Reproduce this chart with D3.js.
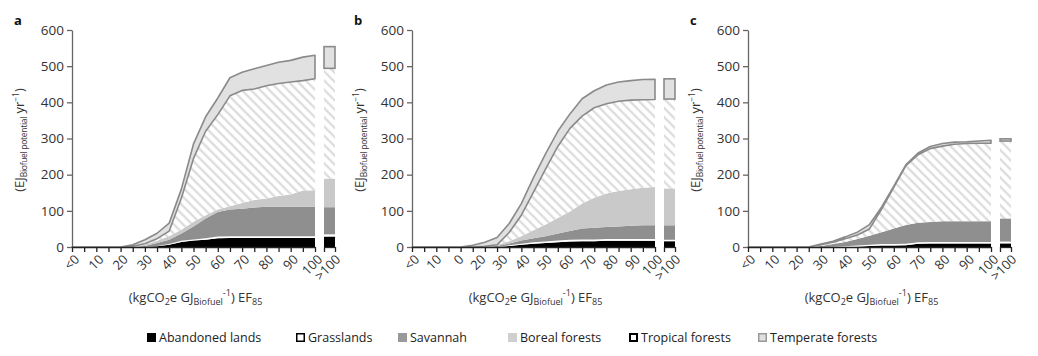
<!DOCTYPE html>
<html><head><meta charset="utf-8">
<script src="https://cdn.jsdelivr.net/npm/d3@7"></script>
<style>
body{margin:0;background:#fff;}
svg{display:block;font-family:"Open Sans",sans-serif;}
</style>
</head><body>
<svg id="chart" width="1038" height="356"></svg>
<script>
// ---------- DATA ----------
const efValues = [0,5,10,15,20,25,30,35,40,45,50,55,60,65,70,75,80,85,90,95,100];
const layerKeys = ["abandoned","grass","savannah","boreal","tropical","temperate"];
const legendLabels = ["Abandoned lands","Grasslands","Savannah","Boreal forests","Tropical forests","Temperate forests"];
const yTicks = [0,100,200,300,400,500,600];
const xLabelsAC = ["<0","10","20","30","40","50","60","70","80","90","100"];
const xLabelsB = ["<0","10","0","20","30","40","50","60","70","80","90","100"];
const overLabel = ">100";
const panelLetters = ["a","b","c"];

// panel a (EJ per layer)
const aAbandoned = [0,0,0,0,0,0,0,2,6,14,18,20,24,25,25,25,25,25,25,25,25];
const aGrass     = [0,0,0,0,0,0,0,1,2,3,3,4,5,5,5,5,5,5,5,5,5];
const aSavannah  = [0,0,0,0,0,0,3,8,12,20,36,55,68,74,76,79,81,81,81,81,81];
const aBoreal    = [0,0,0,0,0,1,3,6,10,11,13,9,7,9,16,21,23,30,34,45,46];
const aTropical  = [0,0,0,0,0,1,3,6,14,87,175,232,262,305,311,307,312,311,311,304,308];
const aTemperate = [0,0,0,0,0,4,11,15,22,25,40,40,46,50,50,56,56,59,60,65,65];
const aOver      = [29,6,75,79,305,60];

// panel b
const bAbandoned = [0,0,0,0,0,0,0,0,3,6,9,11,13,15,16,16,17,17,17,17,17];
const bGrass     = [0,0,0,0,0,0,0,0,2,3,4,4,5,5,5,5,5,5,5,5,5];
const bSavannah  = [0,0,0,0,0,0,1,3,5,9,11,15,19,24,30,32,33,35,37,38,38];
const bBoreal    = [0,0,0,0,0,0,1,3,6,12,22,32,43,54,69,83,93,98,101,104,106];
const bTropical  = [0,0,0,0,0,0,0,0,24,58,106,154,198,230,242,249,248,248,246,243,242];
const bTemperate = [0,0,0,0,0,5,11,20,25,32,40,42,42,40,48,47,52,53,54,56,56];
const bOver      = [16,4,40,102,247,56];

// panel c
const cAbandoned = [0,0,0,0,0,0,0,0,0,1,3,4,4,5,9,10,10,10,10,10,10];
const cGrass     = [0,0,0,0,0,0,0,1,2,3,3,4,4,4,4,4,4,4,4,4,4];
const cSavannah  = [0,0,0,0,0,0,3,7,12,18,25,33,43,52,54,55,57,57,57,57,57];
const cBoreal    = [0,0,0,0,0,0,0,0,0,0,0,0,0,0,0,0,0,0,0,0,0];
const cTropical  = [0,0,0,0,0,0,3,5,9,11,19,64,114,164,188,203,208,213,215,216,216];
const cTemperate = [0,0,0,0,0,0,2,3,5,8,12,6,3,3,5,6,7,6,5,6,8];
const cOver      = [10,5,64,0,214,6];

// ---------- STYLE / LAYOUT ----------
const fills = {abandoned:"#000000", grass:"#ffffff", savannah:"#8f8f8f", boreal:"#c9c9c9", tropical:"url(#hatch)", temperate:"#e1e1e1"};
const axisColor = "#666";
const textColor = "#333";
const panels = [
  {x0:72,  series:[aAbandoned,aGrass,aSavannah,aBoreal,aTropical,aTemperate], over:aOver, labels:xLabelsAC},
  {x0:412, series:[bAbandoned,bGrass,bSavannah,bBoreal,bTropical,bTemperate], over:bOver, labels:xLabelsB},
  {x0:748, series:[cAbandoned,cGrass,cSavannah,cBoreal,cTropical,cTemperate], over:cOver, labels:xLabelsAC}
];
const plotW = 243, yTop = 30, yBot = 247;

const svg = d3.select("#chart");
const defs = svg.append("defs");
const pat = defs.append("pattern").attr("id","hatch").attr("patternUnits","userSpaceOnUse")
  .attr("width",6.5).attr("height",6.5).attr("patternTransform","rotate(45)");
pat.append("rect").attr("width",6.5).attr("height",6.5).attr("fill","#fff");
pat.append("line").attr("x1",0).attr("y1",3.25).attr("x2",6.5).attr("y2",3.25)
  .attr("stroke","#d8d8d8").attr("stroke-width",2);

const y = d3.scaleLinear().domain([0,600]).range([yBot,yTop]);

panels.forEach((p,pi)=>{
  const g = svg.append("g");
  const x = d3.scaleLinear().domain([0,100]).range([p.x0, p.x0+plotW]);
  const rows = efValues.map((v,i)=>{
    const r = {ef:v};
    layerKeys.forEach((k,ki)=>r[k]=p.series[ki][i]);
    return r;
  });
  const stack = d3.stack().keys(layerKeys)(rows);
  const area = d3.area().x(d=>x(d.data.ef)).y0(d=>y(d[0])).y1(d=>y(d[1])).curve(d3.curveLinear);
  g.selectAll("path.layer").data(stack).join("path").attr("class","layer")
    .attr("d",area)
    .attr("fill",d=>fills[d.key])
    .attr("stroke",d=>d.key==="temperate"?"#8a8a8a":"none")
    .attr("stroke-width",1.6).attr("stroke-linejoin","round");

  // >100 bar
  const bx0 = p.x0+plotW+9, bx1 = bx0+11;
  const xb = d3.scaleBand().domain([overLabel]).range([bx0,bx1]).padding(0);
  const orow = {cat:overLabel};
  layerKeys.forEach((k,ki)=>orow[k]=p.over[ki]);
  const ostack = d3.stack().keys(layerKeys)([orow]);
  g.selectAll("rect.over").data(ostack).join("rect").attr("class","over")
    .attr("x",xb(overLabel)).attr("width",xb.bandwidth())
    .attr("y",d=>y(d[0][1])).attr("height",d=>y(d[0][0])-y(d[0][1]))
    .attr("fill",d=>fills[d.key])
    .attr("stroke",d=>d.key==="temperate"?"#8a8a8a":"none")
    .attr("stroke-width",1.6);

  // y axis
  const ya = g.append("g").attr("transform",`translate(${p.x0},0)`)
    .call(d3.axisLeft(y).tickValues(yTicks).tickSize(5).tickSizeOuter(0).tickPadding(3));
  ya.selectAll("path,line").attr("stroke",axisColor).attr("stroke-width",1.3);
  ya.selectAll("text").attr("fill",textColor).style("font-size","13.5px").style("font-family","Open Sans");

  // x axis
  const xa = g.append("g").attr("transform",`translate(0,${yBot})`)
    .call(d3.axisBottom(x).tickValues(efValues).tickSize(5).tickSizeOuter(0).tickFormat(""));
  xa.selectAll("path,line").attr("stroke","#222").attr("stroke-width",1.3);
  const n = p.labels.length;
  g.selectAll("text.xl").data(p.labels).join("text").attr("class","xl")
    .attr("transform",(d,i)=>`translate(${x(i*100/(n-1))+5},${yBot+10}) rotate(-45)`)
    .attr("text-anchor","end").attr("dy","0.35em")
    .attr("fill",textColor).style("font-size","13px").text(d=>d);

  const xbScale = d3.scaleLinear().domain([0,1]).range([bx0,bx1]);
  const xba = g.append("g").attr("transform",`translate(0,${yBot})`)
    .call(d3.axisBottom(xbScale).tickValues([0,1]).tickSize(5).tickSizeOuter(0).tickFormat(""));
  xba.selectAll("path,line").attr("stroke","#222").attr("stroke-width",1.3);
  g.append("text").attr("transform",`translate(${bx1+3},${yBot+10}) rotate(-45)`)
    .attr("text-anchor","end").attr("dy","0.35em").attr("fill",textColor)
    .style("font-size","13px").text(overLabel);

  // panel letter
  g.append("text").attr("x",p.x0-58).attr("y",25).attr("font-weight","bold")
    .style("font-size","13px").attr("fill","#111").text(panelLetters[pi]);

  // y label
  const yl = g.append("text").attr("transform",`translate(${p.x0-48},140) rotate(-90)`)
    .attr("text-anchor","middle").attr("fill",textColor).style("font-size","13px");
  yl.append("tspan").text("(EJ");
  yl.append("tspan").attr("dy",3).style("font-size","8.5px").attr("letter-spacing","-0.3").text("Biofuel potential");
  yl.append("tspan").attr("dy",-3).text(" yr");
  yl.append("tspan").attr("dy",-5).style("font-size","8.5px").text("−1");
  yl.append("tspan").attr("dy",5).text(")");

  // x title
  const cx = p.x0 + plotW/2 + 2;
  const xt = g.append("text").attr("x",cx).attr("y",302).attr("text-anchor","middle")
    .attr("fill",textColor).style("font-size","13px");
  xt.append("tspan").text("(kgCO");
  xt.append("tspan").attr("dy",3).style("font-size","9px").text("2");
  xt.append("tspan").attr("dy",-3).text("e GJ");
  xt.append("tspan").attr("dy",3).style("font-size","9px").text("Biofuel");
  xt.append("tspan").attr("dy",-9).style("font-size","9px").text("-1");
  xt.append("tspan").attr("dy",6).text(") EF");
  xt.append("tspan").attr("dy",3).style("font-size","9px").text("85");
});

// legend
const legX = [147,296,398,508,629,758];
const lg = svg.append("g");
legendLabels.forEach((lab,i)=>{
  const k = layerKeys[i];
  const r = lg.append("rect").attr("x",legX[i]).attr("y",333).attr("width",9).attr("height",9);
  if(k==="abandoned") r.attr("fill","#000");
  else if(k==="grass") r.attr("x",legX[i]+0.75).attr("y",333.75).attr("width",7.5).attr("height",7.5).attr("fill","#fff").attr("stroke","#000").attr("stroke-width",1.5);
  else if(k==="savannah") r.attr("fill","#999");
  else if(k==="boreal") r.attr("fill","#cfcfcf");
  else if(k==="tropical") r.attr("x",legX[i]+1).attr("y",334).attr("width",7).attr("height",7).attr("fill","#fff").attr("stroke","#000").attr("stroke-width",2);
  else r.attr("x",legX[i]+0.75).attr("y",333.75).attr("width",7.5).attr("height",7.5).attr("fill","#e0e0e0").attr("stroke","#999").attr("stroke-width",1.5);
  lg.append("text").attr("x",legX[i]+12).attr("y",342).attr("fill","#222")
    .style("font-size","12.5px").text(lab);
});
</script>
</body></html>
